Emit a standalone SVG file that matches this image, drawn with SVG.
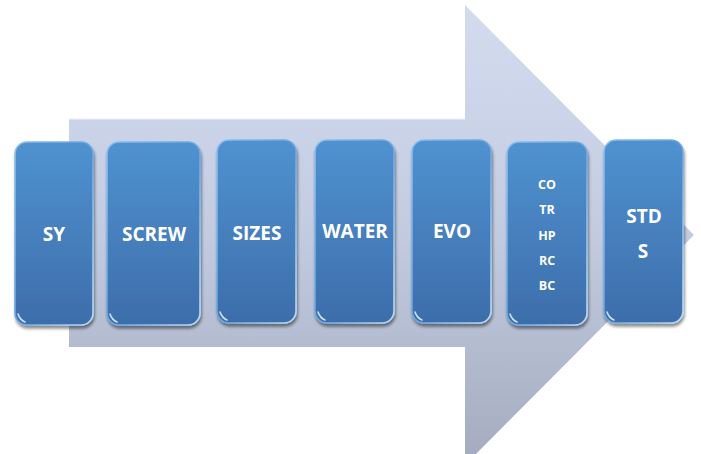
<svg xmlns="http://www.w3.org/2000/svg" width="701" height="454" viewBox="0 0 701 454">
<defs>
<linearGradient id="arrowGrad" x1="0" y1="0" x2="0" y2="1" gradientUnits="objectBoundingBox">
<stop offset="0" stop-color="#d3dcef"/>
<stop offset="0.5" stop-color="#c2cbe0"/>
<stop offset="1" stop-color="#a4abbf"/>
</linearGradient>
<linearGradient id="boxGrad" x1="0" y1="0" x2="0" y2="1">
<stop offset="0" stop-color="#5092d0"/>
<stop offset="1" stop-color="#3d6dab"/>
</linearGradient>
<linearGradient id="edgeGrad" x1="0" y1="0" x2="1" y2="1">
<stop offset="0" stop-color="#8fc0ec"/>
<stop offset="0.5" stop-color="#6aa6df"/>
<stop offset="1" stop-color="#b9dcf7"/>
</linearGradient>
<filter id="shadow" x="-20%" y="-10%" width="140%" height="125%">
<feGaussianBlur in="SourceAlpha" stdDeviation="1.6"/>
<feOffset dx="1" dy="2.5" result="b"/>
<feComponentTransfer><feFuncA type="linear" slope="0.45"/></feComponentTransfer>
<feMerge><feMergeNode/><feMergeNode in="SourceGraphic"/></feMerge>
</filter>
</defs>
<style>
.box{fill:url(#boxGrad);stroke:url(#edgeGrad);stroke-width:1.6;filter:url(#shadow)}
.gloss{fill:none;stroke:#e8f4ff;stroke-width:1.6;stroke-linecap:round;opacity:0.85}
.lbl{font-family:"Open Sans","Liberation Sans",sans-serif;font-weight:bold;fill:#ffffff;text-anchor:middle;font-size:19px}
.sm{font-size:12.5px}
</style>
<g id="arrow">
<path d="M69 119 L465 119 L465 5 L694 235 L465 465 L465 347 L69 347 Z" fill="url(#arrowGrad)"/>
<path d="M69 119 L465 119" stroke="#eef2fb" stroke-width="1.2" fill="none"/>
</g>
<g id="node-sy">
<rect class="box" x="15" y="142" width="78" height="183" rx="12"/>
<path class="gloss" d="M18 314 Q20 320 25 322"/>
<text class="lbl" x="54" y="241">SY</text>
</g>
<g id="node-screw">
<rect class="box" x="107" y="142" width="93" height="183" rx="12"/>
<path class="gloss" d="M110 314 Q112 320 117 322"/>
<text class="lbl" x="154" y="241">SCREW</text>
</g>
<g id="node-sizes">
<rect class="box" x="217" y="140" width="79" height="183" rx="12"/>
<path class="gloss" d="M220 312 Q222 318 227 320"/>
<text class="lbl" x="257" y="240">SIZES</text>
</g>
<g id="node-water">
<rect class="box" x="315" y="140" width="79" height="183" rx="12"/>
<path class="gloss" d="M318 312 Q320 318 325 320"/>
<text class="lbl" x="355" y="238">WATER</text>
</g>
<g id="node-evo">
<rect class="box" x="412" y="140" width="79" height="183" rx="12"/>
<path class="gloss" d="M415 312 Q417 318 422 320"/>
<text class="lbl" x="452" y="238">EVO</text>
</g>
<g id="node-list">
<rect class="box" x="507" y="142" width="80" height="183" rx="12"/>
<path class="gloss" d="M510 314 Q512 320 517 322"/>
<text class="lbl sm" x="547" y="189">CO</text>
<text class="lbl sm" x="547" y="214">TR</text>
<text class="lbl sm" x="547" y="240">HP</text>
<text class="lbl sm" x="547" y="265">RC</text>
<text class="lbl sm" x="547" y="290">BC</text>
</g>
<g id="node-stds">
<rect class="box" x="604" y="140" width="79" height="183" rx="12"/>
<path class="gloss" d="M607 312 Q609 318 614 320"/>
<text class="lbl" x="644" y="223">STD</text>
<text class="lbl" x="643" y="258">S</text>
</g>
<g id="connectors"/>
</svg>
